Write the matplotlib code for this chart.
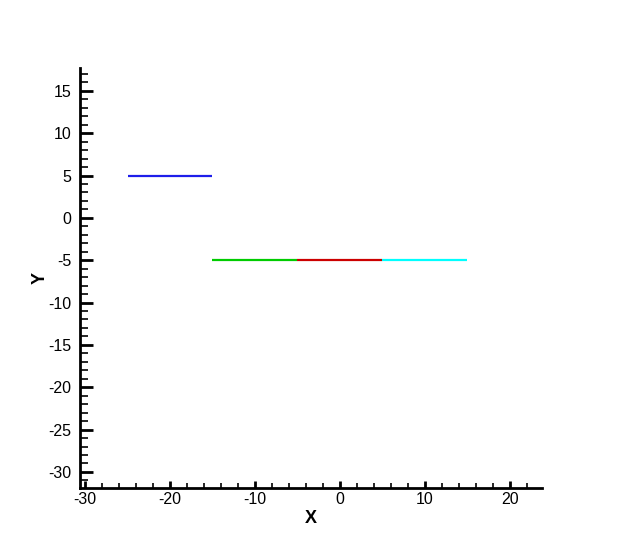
import matplotlib
matplotlib.use('Agg')
import matplotlib.pyplot as plt
from matplotlib.ticker import MultipleLocator

# line segments (x start, x end, y)
seg_x0 = [-25, -15, -5, 5]
seg_x1 = [-15, -5, 5, 15]
seg_y = [5, -5, -5, -5]
seg_colors = ['#1e1eea', '#00cc00', '#cc0000', '#00ffff']

plt.rcParams['font.family'] = ['Liberation Sans', 'DejaVu Sans']
plt.rcParams['axes.unicode_minus'] = False

fig = plt.figure(figsize=(6.18, 5.49), dpi=100)
ax = fig.add_axes([80 / 618, 1 - 488 / 549, 462 / 618, 420 / 549])

for x0, x1, y, c in zip(seg_x0, seg_x1, seg_y, seg_colors):
    ax.plot([x0, x1], [y, y], color=c, linewidth=1.6, solid_capstyle='butt')

ax.set_xlim(-30.6, 23.8)
ax.set_ylim(-31.9, 17.7)

ax.spines['top'].set_visible(False)
ax.spines['right'].set_visible(False)
ax.spines['left'].set_linewidth(2)
ax.spines['bottom'].set_linewidth(2)

ax.xaxis.set_major_locator(MultipleLocator(10))
ax.xaxis.set_minor_locator(MultipleLocator(2))
ax.yaxis.set_major_locator(MultipleLocator(5))
ax.yaxis.set_minor_locator(MultipleLocator(1))

ax.tick_params(axis='x', which='major', direction='in', length=5, width=2,
               labelsize=11.5, pad=3)
ax.tick_params(axis='x', which='minor', direction='in', length=3.5, width=1.2)
ax.tick_params(axis='y', which='major', direction='in', length=9, width=2,
               labelsize=11.5, pad=6)
ax.tick_params(axis='y', which='minor', direction='in', length=6, width=1.2)

ax.set_xlabel('X', fontsize=13, fontweight='bold', labelpad=2)
ax.set_ylabel('Y', fontsize=13, fontweight='bold', labelpad=0)

fig.savefig('out.png', dpi=100, facecolor='white')
